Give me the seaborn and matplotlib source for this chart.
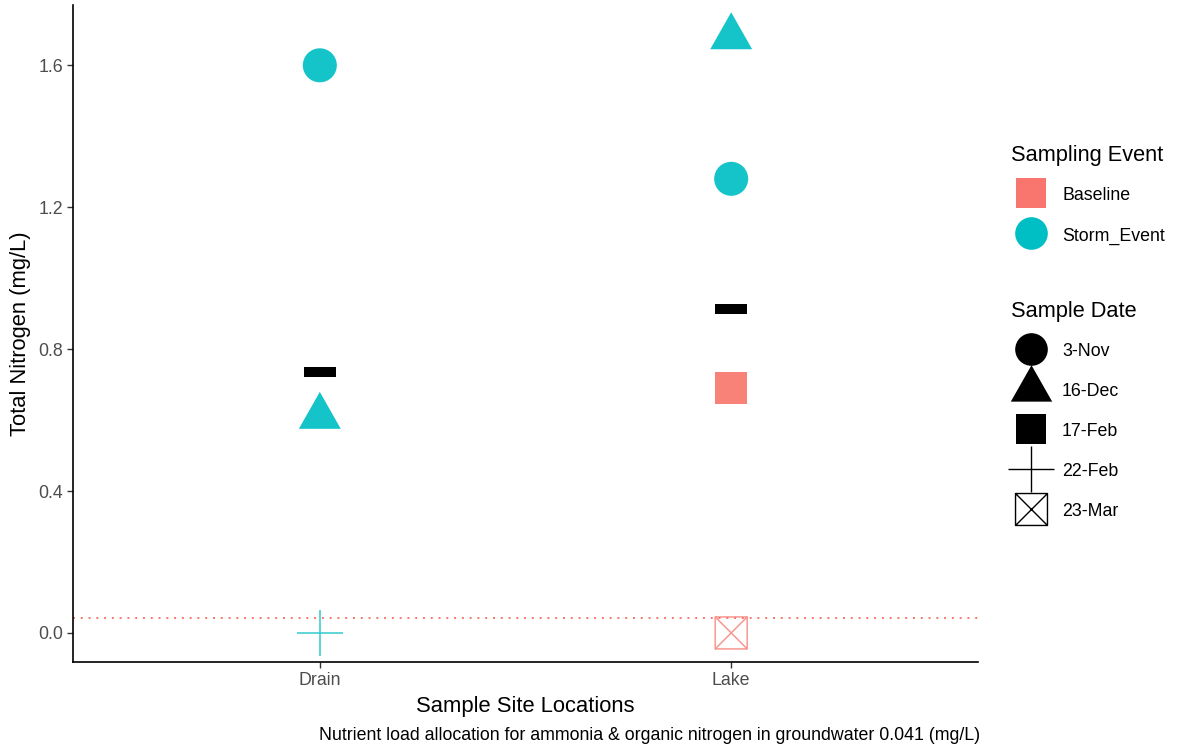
import numpy as np
import pandas as pd
import matplotlib
matplotlib.use("Agg")
import matplotlib.pyplot as plt
from matplotlib.path import Path
from matplotlib.lines import Line2D
import seaborn as sns

# ---- data ----
sites = ["Drain", "Drain", "Drain", "Lake", "Lake", "Lake", "Lake"]
events = ["Storm_Event", "Storm_Event", "Storm_Event", "Storm_Event", "Storm_Event", "Baseline", "Baseline"]
dates = ["3-Nov", "16-Dec", "22-Feb", "3-Nov", "16-Dec", "17-Feb", "23-Mar"]
nitrogen = [1.60, 0.61, 0.0, 1.28, 1.68, 0.69, 0.0]

bar_sites = ["Drain", "Lake"]
bar_values = [0.735, 0.913]

site_order = ["Drain", "Lake"]
event_order = ["Baseline", "Storm_Event"]
date_order = ["3-Nov", "16-Dec", "17-Feb", "22-Feb", "23-Mar"]
y_ticks = [0.0, 0.4, 0.8, 1.2, 1.6]
threshold = 0.041
caption = "Nutrient load allocation for ammonia & organic nitrogen in groundwater 0.041 (mg/L)"

# ---- style ----
sns.set_theme(style="ticks")
plt.rcParams["font.family"] = ["Liberation Sans", "DejaVu Sans"]

palette = {"Baseline": "#F8766D", "Storm_Event": "#00BFC4"}

tri = Path([(-1, -0.587), (1, -0.587), (0, 1.175), (-1, -0.587)],
           [Path.MOVETO, Path.LINETO, Path.LINETO, Path.CLOSEPOLY])
boxx = Path([(-1, -1), (1, -1), (1, 1), (-1, 1), (-1, -1), (1, 1), (-1, 1), (1, -1)],
            [Path.MOVETO, Path.LINETO, Path.LINETO, Path.LINETO, Path.LINETO,
             Path.LINETO, Path.MOVETO, Path.LINETO])
barpath = Path([(-1, -0.33), (1, -0.33), (1, 0.33), (-1, 0.33), (-1, -0.33)],
               [Path.MOVETO, Path.LINETO, Path.LINETO, Path.LINETO, Path.CLOSEPOLY])

markers = {"3-Nov": "o", "16-Dec": tri, "17-Feb": "s", "22-Feb": "+", "23-Mar": boxx}
sizes = {"3-Nov": 600, "16-Dec": 1260, "17-Feb": 530, "22-Feb": 1050, "23-Mar": 530}
filled = {"3-Nov": True, "16-Dec": True, "17-Feb": True, "22-Feb": False, "23-Mar": False}

df = pd.DataFrame({"site": sites, "event": events, "date": dates, "N": nitrogen})
df["x"] = df["site"].map({s: i for i, s in enumerate(site_order)})
bars = pd.DataFrame({"site": bar_sites, "N": bar_values})
bars["x"] = bars["site"].map({s: i for i, s in enumerate(site_order)})

W, H = 1181, 751
fig = plt.figure(figsize=(W / 100, H / 100), dpi=100)
ax = fig.add_axes([73 / W, 1 - 662 / H, (978 - 73) / W, (662 - 5) / H])

ax.axhline(threshold, color="#F8766D", linestyle=(0, (1, 3)), linewidth=1.4, zorder=1)

for d in date_order:
    sub = df[df["date"] == d]
    if sub.empty:
        continue
    if filled[d]:
        sns.scatterplot(data=sub, x="x", y="N", hue="event", palette=palette,
                        hue_order=event_order, marker=markers[d], s=sizes[d],
                        linewidth=0, alpha=0.92, legend=False, ax=ax, zorder=3)
    elif d == "22-Feb":
        for ev, g in sub.groupby("event"):
            ax.scatter(g["x"], g["N"], marker=markers[d], s=sizes[d],
                       c=palette[ev], linewidths=1.1, alpha=0.8, zorder=3)
    else:
        for ev, g in sub.groupby("event"):
            ax.scatter(g["x"], g["N"], marker=markers[d], s=sizes[d],
                       facecolors="none", edgecolors=palette[ev],
                       linewidths=1.1, alpha=0.75, zorder=3)

sns.scatterplot(data=bars, x="x", y="N", color="black", marker=barpath, s=530,
                linewidth=0, legend=False, ax=ax, zorder=4)

ax.set_xlim(-0.6, 1.6)
ax.set_ylim(-0.082, 1.77)
ax.set_xticks(range(len(site_order)))
ax.set_xticklabels(site_order)
ax.set_yticks(y_ticks)
ax.set_yticklabels([f"{v:.1f}" for v in y_ticks])
ax.tick_params(colors="#333333", labelcolor="#4D4D4D", labelsize=12.8, length=4, width=1, pad=3)
ax.set_xlabel("Sample Site Locations", fontsize=15.8, color="black", labelpad=5)
ax.set_ylabel("Total Nitrogen (mg/L)", fontsize=15.8, color="black", labelpad=5)
for s in ["top", "right"]:
    ax.spines[s].set_visible(False)
for s in ["left", "bottom"]:
    ax.spines[s].set_color("black")
    ax.spines[s].set_linewidth(1.2)
ax.grid(False)

# ---- legends (drawn as keys in figure space) ----
key_x, text_x, title_x = 1031, 1062, 1011


def fy(py):
    return 1 - py / H


def legend_block(title, title_y, first_y, step, entries):
    fig.text(title_x / W, fy(title_y), title, ha="left", va="center_baseline",
             fontsize=15.7, color="black")
    for i, (label, mk) in enumerate(entries):
        y = first_y + i * step
        fig.add_artist(Line2D([key_x / W], [fy(y)], transform=fig.transFigure,
                              linestyle="none", **mk))
        fig.text(text_x / W, fy(y + 1), label, ha="left", va="center_baseline",
                 fontsize=12.8, color="black")


legend_block("Sampling Event", 153, 193, 40, [
    ("Baseline", dict(marker="s", markersize=21.5, color=palette["Baseline"], markeredgewidth=0)),
    ("Storm_Event", dict(marker="o", markersize=23.5, color=palette["Storm_Event"], markeredgewidth=0)),
])

legend_block("Sample Date", 309, 349, 40, [
    ("3-Nov", dict(marker="o", markersize=23.5, color="black", markeredgewidth=0)),
    ("16-Dec", dict(marker=tri, markersize=35, color="black", markeredgewidth=0)),
    ("17-Feb", dict(marker="s", markersize=22, color="black", markeredgewidth=0)),
    ("22-Feb", dict(marker="+", markersize=33, color="black", markeredgewidth=1.0)),
    ("23-Mar", dict(marker=boxx, markersize=23, color="black", markeredgewidth=1.0, fillstyle="none")),
])

fig.text(980 / W, fy(735), caption, ha="right", va="center", fontsize=12.8, color="black")

fig.savefig("out.png", dpi=100)
